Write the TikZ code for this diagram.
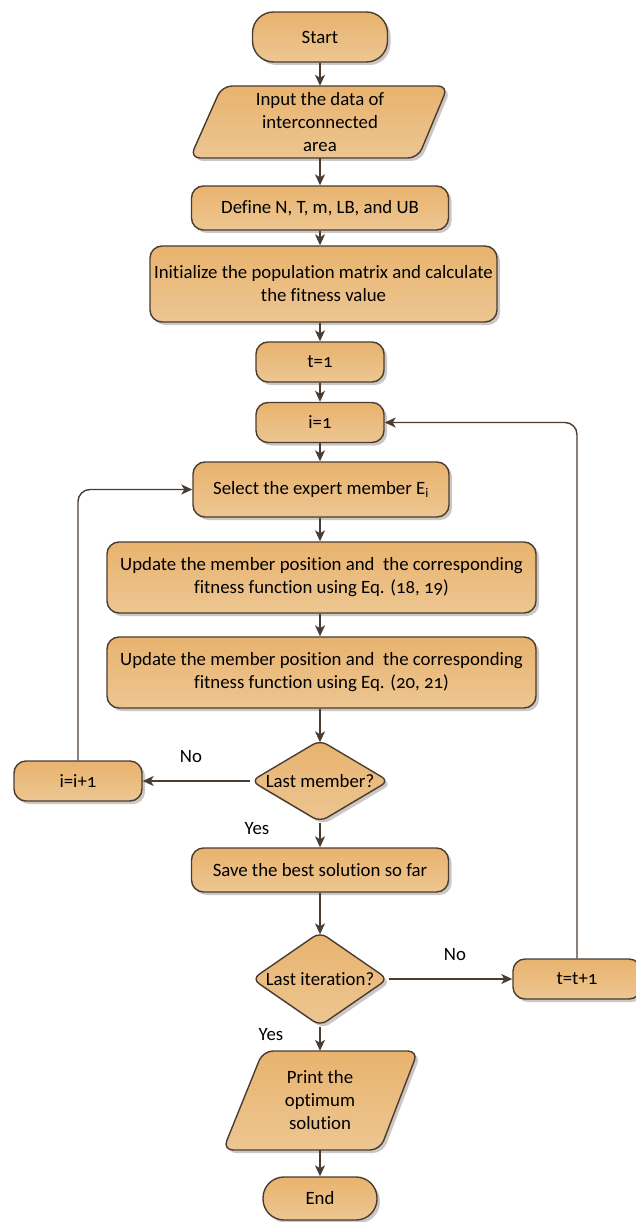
\documentclass[tikz,border=0pt]{standalone}
\usepackage{fontspec}
\setmainfont{Carlito}[Numbers=OldStyle, Ligatures=NoCommon]
\usetikzlibrary{shapes.geometric,arrows.meta,shadows,calc}
\definecolor{edgec}{HTML}{4A3C31}
\definecolor{fillA}{HTML}{E8B36E}
\definecolor{fillB}{HTML}{EDC692}
\definecolor{shad}{HTML}{CCC7C2}
\begin{document}
\begin{tikzpicture}[x=1pt,y=-1pt,
  font=\fontsize{18.8}{23}\selectfont,
  shaded/.style={draw=edgec, line width=1.4pt, top color=fillA, bottom color=fillB,
     drop shadow={shadow xshift=3pt, shadow yshift=-3pt, fill=shad, opacity=1}},
  box/.style={shaded, rectangle, rounded corners=12pt, align=center, inner sep=0pt},
  term/.style={shaded, rectangle, rounded corners=21pt, align=center, inner sep=0pt},
  dia/.style={shaded, diamond, rounded corners=8pt, inner sep=0pt},
  txt/.style={align=center, inner sep=0pt},
  arr/.style={draw=edgec, line width=1.4pt, -{Stealth[length=11pt,width=10pt,inset=3pt]}},
  loop/.style={arr, rounded corners=12pt},
  lab/.style={inner sep=0pt, text=black}
]
\useasboundingbox (0,0) rectangle (636,1222);

% parallelograms (drawn first, text nodes on top)
\path[shaded, rounded corners=10pt] (222,86) -- (448,86) -- (418,158) -- (190,158) -- cycle;
\path[shaded, rounded corners=10pt] (263,1051) -- (418,1051) -- (380,1150) -- (223,1150) -- cycle;

\node[term, minimum width=135, minimum height=50] (start) at (320,37) {Start};
\node[txt, minimum width=200, minimum height=72] (inp) at (320,122) {Input the data of\\interconnected\\area};
\node[box, minimum width=257, minimum height=44] (def) at (320,208) {Define N, T, m, LB, and UB};
\node[box, minimum width=347, minimum height=76] (init) at (323.5,284) {Initialize the population matrix and calculate\\the fitness value};
\node[box, minimum width=128, minimum height=40] (t1) at (320,362) {t=1};
\node[box, minimum width=128, minimum height=40] (i1) at (320,422.5) {i=1};
\node[box, minimum width=256, minimum height=55] (sel) at (321,489.5) {Select the expert member E\textsubscript{i}};
\node[box, minimum width=429, minimum height=71] (up1) at (321.5,577.5) {Update the member position and\ \ the corresponding\\fitness function using Eq. (18, 19)};
\node[box, minimum width=429, minimum height=71] (up2) at (321.5,672.5) {Update the member position and\ \ the corresponding\\fitness function using Eq. (20, 21)};
\node[dia, minimum width=138, minimum height=82, label={center:Last member?}] (lm) at (320,781) {};
\node[box, minimum width=128, minimum height=40] (iinc) at (78,781) {i=i+1};
\node[box, minimum width=257, minimum height=44] (save) at (320,870) {Save the best solution so far};
\node[dia, minimum width=136, minimum height=94, label={center:Last iteration?}] (li) at (320,979) {};
\node[box, minimum width=128, minimum height=40] (tinc) at (577,979) {t=t+1};
\node[txt, minimum width=150, minimum height=99] (prn) at (320,1100.5) {Print the\\optimum\\solution};
\node[term, minimum width=114, minimum height=43] (end) at (320,1198.5) {End};

\coordinate (lmtop) at ($(lm.north)+(0,3)$);
\coordinate (litop) at ($(li.north)+(0,3)$);

% connectors
\draw[arr] (start) -- (inp);
\draw[arr] (inp) -- (def);
\draw[arr] (def) -- (def.south |- init.north);
\draw[arr] (init.south -| t1) -- (t1);
\draw[arr] (t1) -- (i1);
\draw[arr] (i1.south) -- (i1.south |- sel.north);
\draw[arr] (sel.south -| i1) -- (i1 |- up1.north);
\draw[arr] (up1.south -| i1) -- (i1 |- up2.north);
\draw[arr] (up2.south -| lm) -- (lmtop);
\draw[arr] (lm) -- (save);
\draw[arr] (save) -- (litop);
\draw[arr] (li) -- (prn);
\draw[arr] (prn) -- (end);
\draw[arr] (lm) -- (iinc);
\draw[arr] (li) -- (tinc);
\draw[loop] (iinc) |- (sel);
\draw[loop] (tinc) |- (i1);

% labels
\node[lab] (nol) at (191,757) {No};
\node[lab] (yesl) at (257,829) {Yes};
\node[lab] (nor) at (455,955) {No};
\node[lab] (yesr) at (271,1035) {Yes};
\end{tikzpicture}
\end{document}
